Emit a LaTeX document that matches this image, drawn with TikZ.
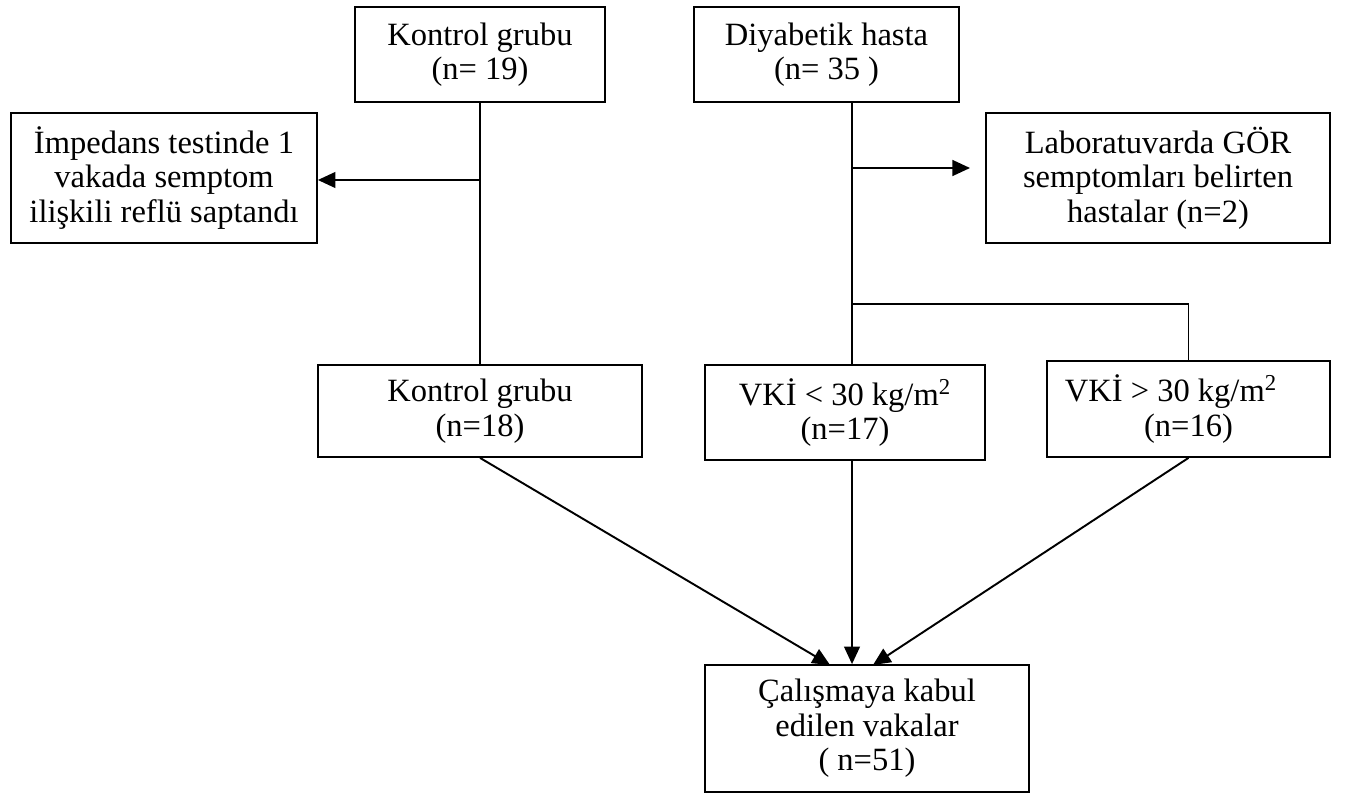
\documentclass[tikz,border=0pt]{standalone}
\usepackage{fontspec}
\setmainfont{Liberation Serif}
\usetikzlibrary{arrows.meta, positioning}

\begin{document}
\begin{tikzpicture}[
    box/.style={draw, line width=1pt, align=center, inner sep=2pt,
      font=\fontsize{18.5}{19.6}\selectfont},
    arr/.style={line width=1.1pt, -{Triangle[length=10pt, width=9pt]}},
    link/.style={line width=1pt}
  ]
  \useasboundingbox (0,0) rectangle (26.94,-15.86);

  % Top row
  \node[box, minimum width=5.0cm, minimum height=1.9cm] (kontrol) at (9.6,-1.09)
    {Kontrol grubu\\(n= 19)};
  \node[box, minimum width=5.3cm, minimum height=1.9cm] (diyabet) at (16.53,-1.09)
    {Diyabetik hasta\\(n= 35 )};

  % Excluded cases
  \node[box, minimum width=6.12cm, minimum height=2.6cm] (impedans) at (3.28,-3.56)
    {İmpedans testinde 1\\vakada semptom\\ilişkili reflü saptandı};
  \node[box, minimum width=6.88cm, minimum height=2.6cm] (lab) at (23.16,-3.56)
    {Laboratuvarda GÖR\\semptomları belirten\\hastalar (n=2)};

  % Groups
  \node[box, minimum width=6.48cm, minimum height=1.84cm] (kontrol18) at (9.6,-8.22)
    {Kontrol grubu\\(n=18)};
  \node[box, minimum width=5.6cm, minimum height=1.9cm] (vkia) at (16.9,-8.25)
    {VKİ < 30 kg/m\textsuperscript{2}\\(n=17)};
  \node[box, minimum width=5.66cm, minimum height=1.92cm] (vkib) at (23.77,-8.18)
    {VKİ > 30 kg/m\textsuperscript{2}\hspace*{0.7cm}\\(n=16)};

  % Result
  \node[box, minimum width=6.48cm, minimum height=2.54cm] (kabul) at (17.34,-14.57)
    {Çalışmaya kabul\\edilen vakalar\\( n=51)};

  % Left branch
  \draw[link] (kontrol.south) -- (kontrol18.north);
  \coordinate (kbr) at (9.6,-3.6);
  \draw[arr] (kbr) -- (kbr -| impedans.east);

  % Right branch
  \coordinate (dtop) at (17.04,-2.04);
  \coordinate (dlab) at (17.04,-3.36);
  \coordinate (labtip) at (19.4,-3.36);
  \coordinate (dsplit) at (17.04,-6.08);
  \draw[link] (dtop) -- (dtop |- vkia.north);
  \draw[arr] (dlab) -- (labtip);
  \draw[link] (dsplit) -| (vkib.north);

  % Into the study
  \draw[arr] (kontrol18.south) -- (16.6,-13.3);
  \draw[arr] (vkia.south -| dtop) -- (dtop |- kabul.north);
  \draw[arr] (vkib.south) -- (17.46,-13.3);

\end{tikzpicture}
\end{document}
